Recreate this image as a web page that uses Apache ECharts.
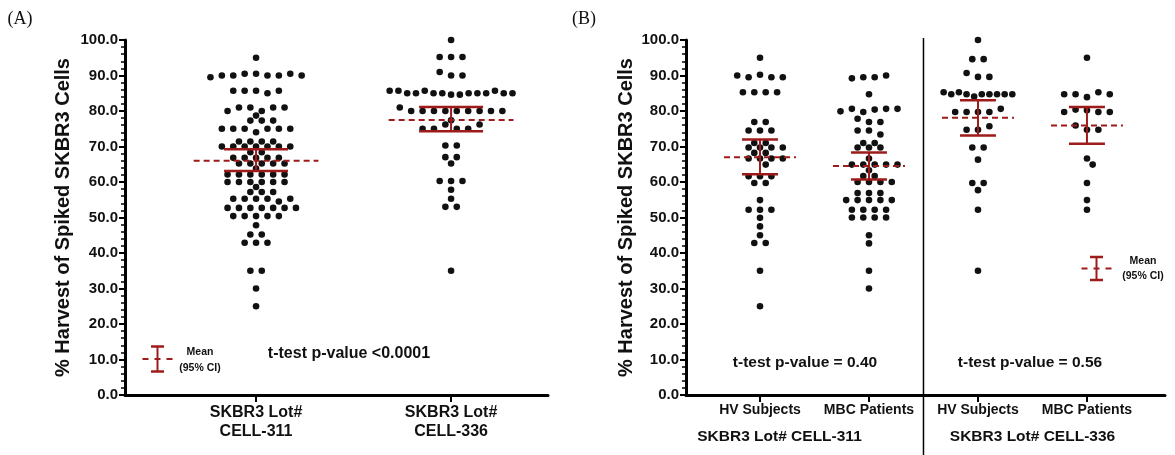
<!DOCTYPE html>
<html><head><meta charset="utf-8">
<script src="https://cdn.jsdelivr.net/npm/echarts@6/dist/echarts.min.js"></script>
<style>html,body{margin:0;padding:0;background:#fff}#c{width:1175px;height:455px}</style>
</head><body><div id="c"></div>
<script>
// ---------------- data ----------------
const panelACategories = ['SKBR3 Lot#\nCELL-311', 'SKBR3 Lot#\nCELL-336'];
const panelBCategories = ['HV Subjects', 'MBC Patients', 'HV Subjects', 'MBC Patients'];
const panelBGroups = ['SKBR3 Lot# CELL-311', 'SKBR3 Lot# CELL-336'];
const yAxisTitle = '% Harvest of Spiked SKBR3 Cells';
const pValueA = 't-test p-value <0.0001';
const pValuesB = ['t-test p-value = 0.40', 't-test p-value = 0.56'];

// Panel A, read row by row (top to bottom, left to right)
const cell311 = [95,
  89.5, 90, 90, 90.5, 90.5, 90, 90, 90.5, 90,
  85.7, 85.7, 85.7, 85, 85.7,
  80, 81, 81, 80, 81, 81,
  78.7,
  77.3, 77.3, 77.3,
  75, 75, 75, 74, 75, 75, 75,
  71.4, 71.4, 71.4, 71.4,
  70, 70, 70, 70, 70, 70, 70,
  68.4, 68.4,
  66.8, 66.8, 66.8, 66.8, 66.8,
  65.2, 65.2, 65.2, 65.2, 65.2,
  63.8,
  62.1, 62.1, 62.1, 62.1, 62.1, 62.1,
  60, 60, 60, 60, 60, 60,
  58.6,
  57.2, 57.2, 57.2,
  55.3, 55.3, 55.3, 55.3, 54.5, 55.3,
  52.7, 52.7, 52.7, 52.7, 52.7, 52.7, 52.7,
  50.4, 50.4, 50.4, 50.4, 50.4,
  47.8,
  45.2, 45.2,
  42.9, 42.9, 42.9,
  35, 35,
  30,
  25];
const cell336 = [100,
  95.2, 95.2, 95.2,
  91, 90, 90,
  85.7, 85.7, 85, 85, 85.7, 85, 85, 84.6, 84.6, 85, 85, 85, 85.7, 85, 85,
  81, 80, 80, 80, 80, 80, 80, 80, 80, 80,
  77.4,
  75, 75, 76.2, 75, 75, 76.2,
  70.3, 70.3,
  67, 67,
  65.2,
  60.3, 60.3, 60.3,
  57.8,
  55.3,
  53, 53,
  35];

// Panel B
const hv311 = [95,
  90, 89.5, 90.2, 89.5, 89.5,
  85.3, 85.3, 85.3, 85.3,
  76.9, 76.9,
  74.5, 74.5, 74.5,
  71, 71,
  69.7, 69.7, 69.7, 69.7,
  68.2, 68.2,
  66.6, 66.6, 66.6, 66.6,
  64.9,
  61.6, 61.6, 61.6,
  59.7, 59.7,
  54.9,
  52.2, 52.2, 52.2,
  49.9, 47.5, 45,
  42.8, 42.8,
  35, 25];
const mbc311 = [89.2, 89.5, 89.5, 90,
  84.7,
  79.9, 80.6, 79.7, 80.4, 80.6, 80.6,
  77.8, 76.9, 76.9,
  74.5, 74.5, 73.4,
  71, 71,
  69.7, 69.7, 69.7,
  66.6,
  64.9, 64.9, 64.9, 64.9, 64.9,
  63.3,
  61.7, 61.7,
  60, 60, 60, 60,
  56.9, 56.9, 56.9,
  54.9, 54.9, 54.9, 54.9, 54.9,
  52.2, 52.2, 52.2, 52.2,
  50, 50, 50, 50,
  45, 42.7, 35, 30];
const hv336 = [100,
  94.6, 94.6,
  90.7, 89.6, 89.6,
  85.3, 84.7, 85.3, 84.7, 84.1, 84.7, 84.7, 84.7, 84.7, 84.7,
  79.7, 79.7, 79.7, 79.7, 80.6,
  74.7, 74.7, 75.7,
  69.7, 69.7,
  66.3,
  59.7, 59.7,
  57.7,
  52.2,
  35];
const mbc336 = [95,
  84.7, 84.7, 83.9, 85.3, 84.7,
  79.7, 80.4, 80.2, 79.7, 79.7,
  75.9, 74.7, 74.7,
  66.6, 64.9, 59.7, 54.9, 52.2];

// Mean and 95% CI
const meanA = [66.0, 77.5];
const ciLowA = [63.1, 74.3];
const ciHighA = [69.2, 81.1];
const meanB = [67.0, 64.5, 78.1, 75.9];
const ciLowB = [62.2, 60.7, 73.1, 70.8];
const ciHighB = [72.0, 68.3, 83.0, 81.1];

const yTicks = [0, 10, 20, 30, 40, 50, 60, 70, 80, 90, 100];

// ---------------- layout / style ----------------
const RED = '#9e1b1b';
const INK = '#111111';
const FONT = 'Liberation Sans, Arial, sans-serif';
const GA = {left: 125, top: 40, width: 423, height: 355};
const GB = {left: 686, top: 40, width: 479, height: 355};
const XA = {min: -0.672, max: 1.497};
const XB = {min: -0.679, max: 3.716};
const pxA = GA.width / (XA.max - XA.min);
const pxB = GB.width / (XB.max - XB.min);
const pxY = GA.height / (yTicks[yTicks.length - 1] - yTicks[0]);
const STEP = 11.4, DMIN = 6.8, TOL = 1.25, DOT = 6.6, MAXW = 0.63;

function swarm(vals, center, pxX) {
  const rows = []; let cur = null;
  vals.forEach(v => {
    if (cur && Math.abs(v - cur[0]) <= TOL + 1e-9) cur.push(v);
    else { cur = [v]; rows.push(cur); }
  });
  const placed = [], out = [];
  const shifts = [0, 0.5, -0.5, 1, -1, 1.5, -1.5];
  const maxW = MAXW * pxX;
  rows.forEach(row => {
    const n = row.length;
    const step = n > 1 ? Math.min(STEP, maxW / (n - 1)) : STEP;
    const base = row.map((v, i) => ({x: (i - (n - 1) / 2) * step, y: v * pxY}));
    let best = 0, bestD = -1;
    for (const s0 of shifts) {
      const s = s0 * step;
      let md = Infinity;
      base.forEach(p => placed.forEach(q => {
        const d = Math.hypot(p.x + s - q.x, p.y - q.y);
        if (d < md) md = d;
      }));
      if (md >= DMIN) { best = s; bestD = md; break; }
      if (md > bestD) { bestD = md; best = s; }
    }
    base.forEach((p, i) => {
      placed.push({x: p.x + best, y: p.y});
      out.push([center + (p.x + best) / pxX, row[i]]);
    });
  });
  return out;
}

function errRender(meanHalf, capHalf) {
  return function (params, api) {
    const x = api.value(0);
    const c = api.coord([x, api.value(1)]);
    const lo = api.coord([x, api.value(2)]);
    const hi = api.coord([x, api.value(3)]);
    const mh = api.size([meanHalf, 0])[0];
    const ch = api.size([capHalf, 0])[0];
    return {type: 'group', children: [
      {type: 'line', shape: {x1: lo[0], y1: lo[1], x2: hi[0], y2: hi[1]}, style: {stroke: RED, lineWidth: 2}},
      {type: 'line', shape: {x1: lo[0] - ch, y1: lo[1], x2: lo[0] + ch, y2: lo[1]}, style: {stroke: RED, lineWidth: 2.5}},
      {type: 'line', shape: {x1: hi[0] - ch, y1: hi[1], x2: hi[0] + ch, y2: hi[1]}, style: {stroke: RED, lineWidth: 2.5}},
      {type: 'line', shape: {x1: c[0] - mh, y1: c[1], x2: c[0] + mh, y2: c[1]}, style: {stroke: RED, lineWidth: 2, lineDash: [6, 4]}}
    ]};
  };
}

function yAxisCfg(gi, gap) {
  return {
    gridIndex: gi, type: 'value', min: yTicks[0], max: yTicks[yTicks.length - 1], interval: 10,
    axisLine: {show: true, onZero: false, lineStyle: {color: '#000', width: 3}},
    axisTick: {show: true, length: 6, lineStyle: {color: '#000', width: 2}},
    minorTick: {show: true, splitNumber: 5, length: 4, lineStyle: {color: '#000', width: 1.5}},
    splitLine: {show: false},
    axisLabel: {formatter: v => v.toFixed(1), fontFamily: FONT, fontWeight: 'bold', fontSize: 15, color: INK, margin: 7},
    name: yAxisTitle, nameLocation: 'middle', nameGap: gap,
    nameTextStyle: {fontFamily: FONT, fontWeight: 'bold', fontSize: 20, color: INK}
  };
}

const ticksA = panelACategories.map((c, i) => i);
const ticksB = panelBCategories.map((c, i) => i);

const dotStyle = {color: INK, opacity: 1};
const groupsA = [cell311, cell336];
const groupsB = [hv311, mbc311, hv336, mbc336];

const series = [];
groupsA.forEach((g, i) => series.push({type: 'scatter', xAxisIndex: 0, yAxisIndex: 0, symbolSize: DOT,
  itemStyle: dotStyle, data: swarm(g, i, pxA), z: 2}));
groupsB.forEach((g, i) => series.push({type: 'scatter', xAxisIndex: 1, yAxisIndex: 1, symbolSize: DOT,
  itemStyle: dotStyle, data: swarm(g, i, pxB), z: 2}));
series.push({type: 'custom', xAxisIndex: 0, yAxisIndex: 0, z: 5, renderItem: errRender(0.32, 0.164),
  data: meanA.map((m, i) => [i, m, ciLowA[i], ciHighA[i]])});
series.push({type: 'custom', xAxisIndex: 1, yAxisIndex: 1, z: 5, renderItem: errRender(0.33, 0.165),
  data: meanB.map((m, i) => [i, m, ciLowB[i], ciHighB[i]])});

function legendIcon(cx, cy, h) {
  return {type: 'group', children: [
    {type: 'line', shape: {x1: cx, y1: cy - h, x2: cx, y2: cy + h}, style: {stroke: RED, lineWidth: 2}},
    {type: 'line', shape: {x1: cx - 6.5, y1: cy - h, x2: cx + 6.5, y2: cy - h}, style: {stroke: RED, lineWidth: 2.5}},
    {type: 'line', shape: {x1: cx - 6.5, y1: cy + h, x2: cx + 6.5, y2: cy + h}, style: {stroke: RED, lineWidth: 2.5}},
    {type: 'line', shape: {x1: cx - 15, y1: cy, x2: cx - 9, y2: cy}, style: {stroke: RED, lineWidth: 2}},
    {type: 'line', shape: {x1: cx - 3, y1: cy, x2: cx + 3, y2: cy}, style: {stroke: RED, lineWidth: 2}},
    {type: 'line', shape: {x1: cx + 9, y1: cy, x2: cx + 15, y2: cy}, style: {stroke: RED, lineWidth: 2}}
  ]};
}
function txt(x, y, s, size, extra) {
  return {type: 'text', x: x, y: y, style: Object.assign({text: s, fontFamily: FONT, fontWeight: 'bold',
    fontSize: size, fill: INK, align: 'center', verticalAlign: 'middle'}, extra || {})};
}

const chart = echarts.init(document.getElementById('c'), null, {renderer: 'canvas'});
chart.setOption({
  animation: false,
  backgroundColor: '#fff',
  grid: [
    {left: GA.left, top: GA.top, width: GA.width, height: GA.height},
    {left: GB.left, top: GB.top, width: GB.width, height: GB.height}
  ],
  xAxis: [
    {gridIndex: 0, type: 'value', min: XA.min, max: XA.max,
      axisLine: {onZero: false, lineStyle: {color: '#000', width: 3}},
      axisTick: {show: true, customValues: ticksA, length: 7, lineStyle: {color: '#000', width: 2}},
      axisLabel: {customValues: ticksA, formatter: v => panelACategories[Math.round(v)], fontFamily: FONT,
        fontWeight: 'bold', fontSize: 16, lineHeight: 19, color: INK, margin: 8},
      splitLine: {show: false}},
    {gridIndex: 1, type: 'value', min: XB.min, max: XB.max,
      axisLine: {onZero: false, lineStyle: {color: '#000', width: 3}},
      axisTick: {show: true, customValues: ticksB, length: 7, lineStyle: {color: '#000', width: 2}},
      axisLabel: {customValues: ticksB, formatter: v => panelBCategories[Math.round(v)], fontFamily: FONT,
        fontWeight: 'bold', fontSize: 14, lineHeight: 16, color: INK, margin: 7},
      splitLine: {show: false}}
  ],
  yAxis: [yAxisCfg(0, 52), yAxisCfg(1, 50)],
  series: series
});

// dividers and annotations
const divX = chart.convertToPixel({xAxisIndex: 1}, 1.5);
const gcx0 = chart.convertToPixel({xAxisIndex: 1}, 0.5) - 35;
const gcx1 = chart.convertToPixel({xAxisIndex: 1}, 2.5);
chart.setOption({graphic: [
  {type: 'line', shape: {x1: divX, y1: 38, x2: divX, y2: 455}, style: {stroke: '#000', lineWidth: 1.5}, z: 10},
  txt(20, 19, '(A)', 18, {fontFamily: 'Liberation Serif, Times New Roman, serif', fontWeight: 'normal'}),
  txt(584, 19, '(B)', 18, {fontFamily: 'Liberation Serif, Times New Roman, serif', fontWeight: 'normal'}),
  legendIcon(157.5, 359, 12.5),
  txt(200, 352, 'Mean', 10.5),
  txt(200, 368, '(95% CI)', 10.5),
  txt(349, 354, pValueA, 16),
  legendIcon(1096.5, 268.5, 11.5),
  txt(1143, 261, 'Mean', 10.5),
  txt(1143, 276, '(95% CI)', 10.5),
  txt(805, 363, pValuesB[0], 15.5),
  txt(1030, 363, pValuesB[1], 15.5),
  txt(gcx0, 437, panelBGroups[0], 15.5),
  txt(gcx1, 437, panelBGroups[1], 15.5)
]});
</script>
</body></html>
